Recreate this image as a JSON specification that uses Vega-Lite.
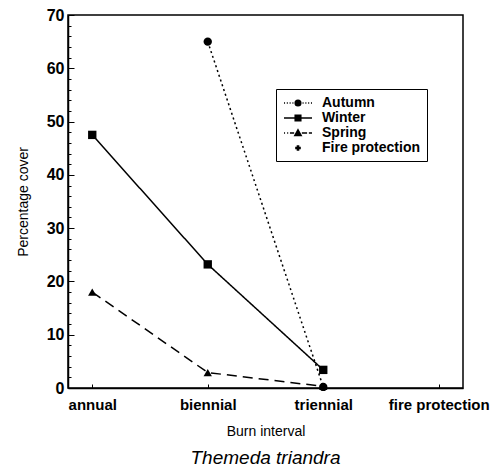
{
  "$schema": "https://vega.github.io/schema/vega-lite/v6.json",
  "width": 395,
  "height": 373,
  "autosize": "none",
  "padding": {"left": 68, "top": 15, "right": 32, "bottom": 85},
  "background": "white",
  "config": {
    "font": "Liberation Sans",
    "view": {"stroke": "black", "strokeWidth": 1.5},
    "axis": {"domainColor": "black", "tickColor": "black", "labelColor": "black", "titleColor": "black", "grid": false}
  },
  "title": {
    "text": "Themeda triandra",
    "orient": "bottom",
    "font": "Liberation Sans",
    "fontSize": 19,
    "fontStyle": "italic",
    "fontWeight": "normal",
    "color": "black",
    "offset": 11
  },
  "data": {
    "values": [
      {"interval": "biennial", "season": "Autumn", "cover": 65},
      {"interval": "triennial", "season": "Autumn", "cover": 0.2},
      {"interval": "annual", "season": "Winter", "cover": 47.5},
      {"interval": "biennial", "season": "Winter", "cover": 23.2},
      {"interval": "triennial", "season": "Winter", "cover": 3.4},
      {"interval": "annual", "season": "Spring", "cover": 18},
      {"interval": "biennial", "season": "Spring", "cover": 2.9},
      {"interval": "triennial", "season": "Spring", "cover": 0.3}
    ]
  },
  "encoding": {
    "x": {
      "field": "interval",
      "type": "ordinal",
      "scale": {"type": "point", "domain": ["annual", "biennial", "triennial", "fire protection"], "padding": 0.21},
      "axis": {
        "title": "Burn interval",
        "labelAngle": 0,
        "labelFontSize": 15,
        "labelFontWeight": "bold",
        "labelPadding": 13,
        "tickSize": -4,
        "titleFontSize": 14,
        "titleFontWeight": "normal",
        "titlePadding": 12,
        "domainWidth": 1.5
      }
    },
    "y": {
      "field": "cover",
      "type": "quantitative",
      "scale": {"domain": [0, 70], "nice": false},
      "axis": {
        "title": "Percentage cover",
        "values": [0, 2, 4, 6, 8, 10, 12, 14, 16, 18, 20, 22, 24, 26, 28, 30, 32, 34, 36, 38, 40, 42, 44, 46, 48, 50, 52, 54, 56, 58, 60, 62, 64, 66, 68, 70],
        "labelExpr": "datum.value % 10 === 0 ? datum.label : ''",
        "labelFontSize": 16,
        "labelFontWeight": "bold",
        "labelPadding": 10,
        "tickSize": {"condition": {"test": "datum.value % 10 === 0", "value": -6}, "value": -3},
        "titleFontSize": 14,
        "titleFontWeight": "normal",
        "titlePadding": 16,
        "domainWidth": 1.5
      }
    }
  },
  "layer": [
    {
      "mark": {"type": "line", "color": "black", "strokeWidth": 1.5},
      "encoding": {
        "strokeDash": {
          "field": "season",
          "type": "nominal",
          "scale": {"domain": ["Autumn", "Winter", "Spring", "Fire protection"], "range": [[2, 3], [1, 0], [10, 6], [1, 0]]},
          "legend": null
        }
      }
    },
    {
      "mark": {"type": "point", "filled": true, "color": "black", "size": 70, "opacity": 1},
      "encoding": {
        "shape": {
          "field": "season",
          "type": "nominal",
          "scale": {"domain": ["Autumn", "Winter", "Spring", "Fire protection"], "range": ["circle", "square", "triangle-up", "cross"]},
          "legend": null
        }
      }
    },
    {
      "mark": {"type": "point", "filled": false, "color": "black", "opacity": 0, "size": 196},
      "encoding": {
        "shape": {
          "field": "season",
          "type": "nominal",
          "scale": {
            "domain": ["Autumn", "Winter", "Spring", "Fire protection"],
            "range": [
              "M-2,0H-1.85M-1.6,0H-1.45M-1.2,0H-1.05M-0.8,0H-0.65M0.65,0H0.8M1.05,0H1.2M1.45,0H1.6M1.85,0H2M0.4,0A0.4,0.4 0 1 1 -0.4,0A0.4,0.4 0 1 1 0.4,0ZM-0.38,-0.12H0.38M-0.38,0.12H0.38M-0.32,-0.26H0.32M-0.32,0.26H0.32",
              "M-2,0H2M-0.4,-0.4H0.4V0.4H-0.4ZM-0.4,-0.2H0.4M-0.4,0.2H0.4",
              "M-2,0H-1.85M-1.55,0H-1.4M-1.15,0H-0.55M0.55,0H1.3M1.55,0H2M0,-0.45L0.45,0.35H-0.45ZM-0.34,0.15H0.34M-0.22,-0.05H0.22M-0.11,-0.25H0.11",
              "M-0.4,0H0.4M0,-0.4V0.4M-0.4,-0.08H0.4M-0.4,0.08H0.4M-0.08,-0.4V0.4M0.08,-0.4V0.4"
            ]
          },
          "legend": {
            "title": null,
            "orient": "none",
            "legendX": 208,
            "legendY": 74,
            "strokeColor": "black",
            "padding": 6,
            "symbolSize": 196,
            "symbolOffset": 8,
            "symbolStrokeWidth": 1.5,
            "symbolOpacity": 1,
            "labelOffset": 16,
            "labelFontSize": 14,
            "labelFontWeight": "bold",
            "labelColor": "black",
            "rowPadding": -2
          }
        }
      }
    }
  ],
  "resolve": {"scale": {"shape": "independent"}}
}
